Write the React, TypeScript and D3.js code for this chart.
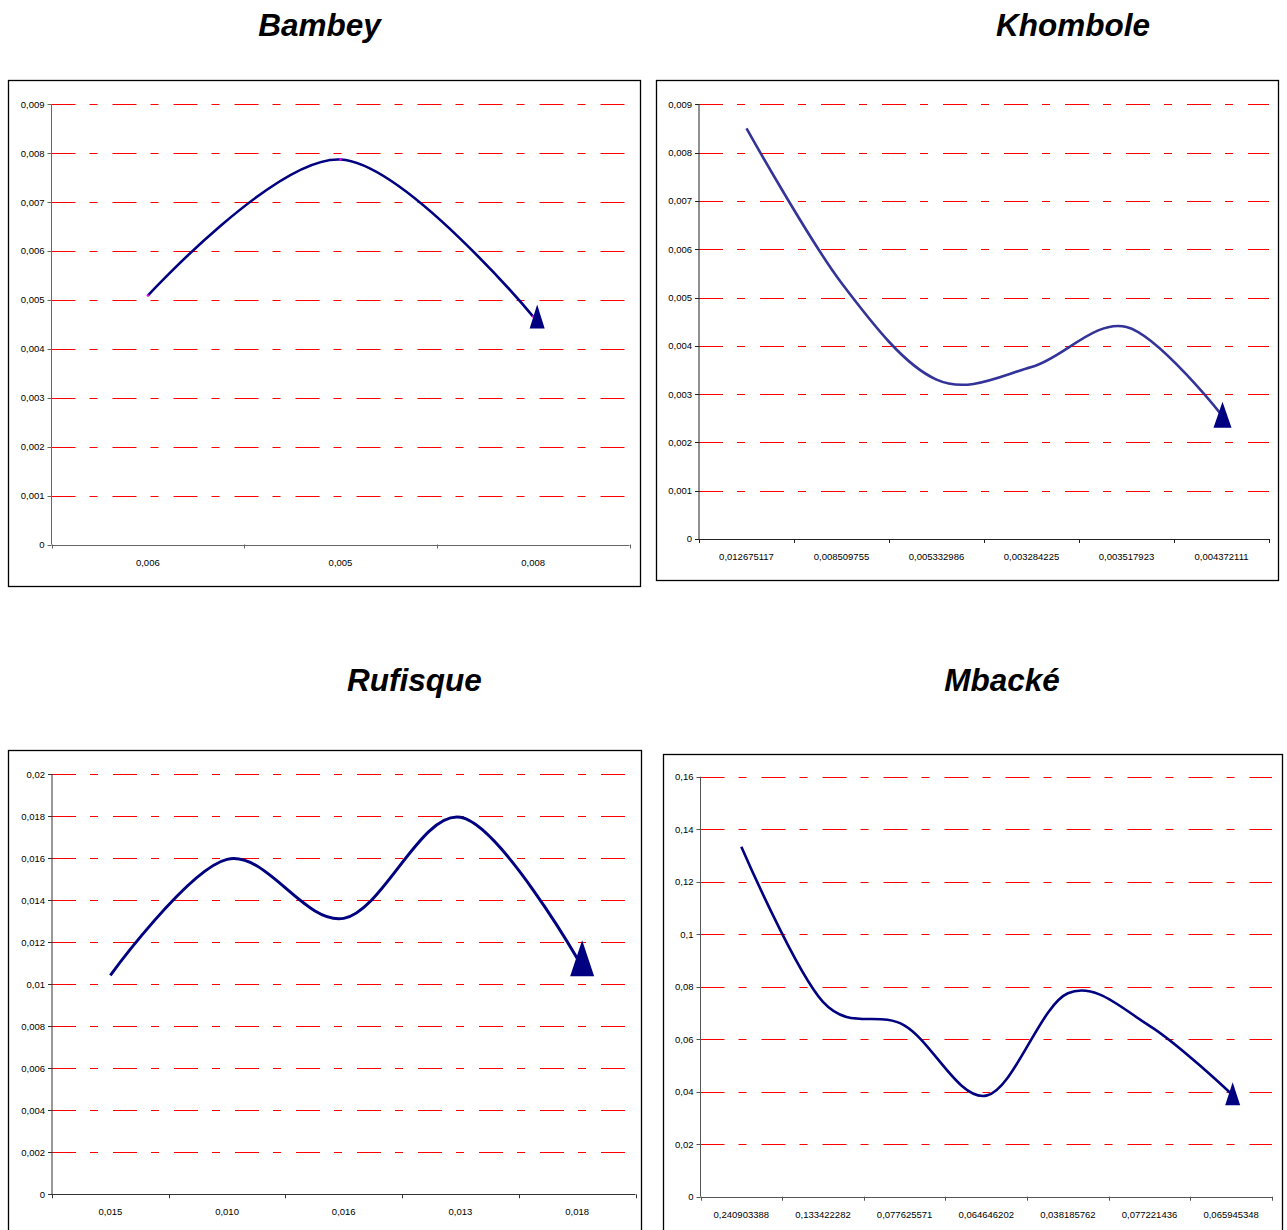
import React from "react";
import * as d3 from "d3";

// ---------- DATA ----------
const bambeyCategories = ["0,006", "0,005", "0,008"];
const bambeyValues = [0.00509, 0.00787, 0.00466];
const bambeyYMax = 0.009;
const bambeyYStep = 0.001;

const khomboleCategories = [
  "0,012675117",
  "0,008509755",
  "0,005332986",
  "0,003284225",
  "0,003517923",
  "0,004372111",
];
const khomboleValues = [0.0085, 0.0053, 0.0033, 0.00356, 0.00439, 0.00257];
const khomboleYMax = 0.009;
const khomboleYStep = 0.001;

const rufisqueCategories = ["0,015", "0,010", "0,016", "0,013", "0,018"];
const rufisqueValues = [0.01043, 0.01595, 0.01314, 0.01795, 0.01124];
const rufisqueYMax = 0.02;
const rufisqueYStep = 0.002;

const mbackeCategories = [
  "0,240903388",
  "0,133422282",
  "0,077625571",
  "0,064646202",
  "0,038185762",
  "0,077221436",
  "0,065945348",
];
const mbackeValues = [0.1333, 0.0742, 0.0652, 0.0385, 0.0775, 0.0651, 0.0392];
const mbackeYMax = 0.16;
const mbackeYStep = 0.02;

// ---------- LAYOUT ----------
type PanelCfg = {
  title: string;
  titleX: number;
  titleY: number;
  box: [number, number, number, number]; // x, y, w, h
  plot: { left: number; right: number; top: number; bottom: number };
  categories: string[];
  values: number[];
  yMax: number;
  yStep: number;
  lineColor: string;
  lineWidth: number;
  marker: { w: number; h: number; dx: number };
  axisColor: string;
  dots?: boolean;
};

const panels: PanelCfg[] = [
  {
    title: "Bambey",
    titleX: 319.5,
    titleY: 36,
    box: [8, 80, 632, 506],
    plot: { left: 51.5, right: 629.5, top: 104.3, bottom: 544.5 },
    categories: bambeyCategories,
    values: bambeyValues,
    yMax: bambeyYMax,
    yStep: bambeyYStep,
    lineColor: "#000080",
    lineWidth: 2.6,
    marker: { w: 15, h: 24, dx: 4 },
    axisColor: "#666",
    dots: true,
  },
  {
    title: "Khombole",
    titleX: 1073,
    titleY: 36,
    box: [656, 80, 622, 500],
    plot: { left: 699, right: 1269, top: 104.3, bottom: 539 },
    categories: khomboleCategories,
    values: khomboleValues,
    yMax: khomboleYMax,
    yStep: khomboleYStep,
    lineColor: "#333399",
    lineWidth: 2.6,
    marker: { w: 18, h: 26, dx: 1 },
    axisColor: "#222",
  },
  {
    title: "Rufisque",
    titleX: 414.5,
    titleY: 691,
    box: [8, 750, 633, 490],
    plot: { left: 52, right: 635.5, top: 774.3, bottom: 1194.3 },
    categories: rufisqueCategories,
    values: rufisqueValues,
    yMax: rufisqueYMax,
    yStep: rufisqueYStep,
    lineColor: "#000080",
    lineWidth: 3,
    marker: { w: 24, h: 36, dx: 5 },
    axisColor: "#333",
  },
  {
    title: "Mbacké",
    titleX: 1002,
    titleY: 691,
    box: [663, 754, 619, 490],
    plot: { left: 700.5, right: 1272, top: 776.7, bottom: 1196.7 },
    categories: mbackeCategories,
    values: mbackeValues,
    yMax: mbackeYMax,
    yStep: mbackeYStep,
    lineColor: "#000080",
    lineWidth: 2.6,
    marker: { w: 15, h: 23, dx: 1.5 },
    axisColor: "#555",
  },
];

const fmt = (v: number) =>
  v === 0 ? "0" : String(+v.toFixed(4)).replace(".", ",");

function Panel({ cfg }: { cfg: PanelCfg }) {
  const { plot } = cfg;
  const x = d3
    .scaleBand<string>()
    .domain(cfg.categories)
    .range([plot.left, plot.right])
    .paddingInner(0)
    .paddingOuter(0);
  const y = d3.scaleLinear().domain([0, cfg.yMax]).range([plot.bottom, plot.top]);
  const nTicks = Math.round(cfg.yMax / cfg.yStep);
  const yTicks = d3.range(0, nTicks + 1).map((i) => i * cfg.yStep);
  const pts: [number, number][] = cfg.values.map((v, i) => [
    (x(cfg.categories[i]) as number) + x.bandwidth() / 2,
    y(v),
  ]);
  const line = d3
    .line<[number, number]>()
    .x((d) => d[0])
    .y((d) => d[1])
    .curve(d3.curveCardinal.tension(0));
  const last = pts[pts.length - 1];
  const { w, h, dx } = cfg.marker;
  const mx = last[0] + dx;
  const apex = last[1] - h * 0.5;
  const base = last[1] + h * 0.5;
  const tri = `M${mx},${apex}L${mx + w / 2},${base}L${mx - w / 2},${base}Z`;
  const xTickPos = [
    ...cfg.categories.map((c) => x(c) as number),
    plot.right,
  ];
  const [bx, by, bw, bh] = cfg.box;
  return (
    <g>
      <text
        x={cfg.titleX}
        y={cfg.titleY}
        textAnchor="middle"
        fontFamily="Liberation Sans, Arial, sans-serif"
        fontWeight="bold"
        fontStyle="italic"
        fontSize={31.5}
        fill="#000"
      >
        {cfg.title}
      </text>
      <rect
        x={bx + 0.5}
        y={by + 0.5}
        width={bw}
        height={bh}
        fill="#fff"
        stroke="#000"
        strokeWidth={1.3}
      />
      {/* grid */}
      {yTicks
        .filter((t) => t > 0)
        .map((t) => (
          <line
            key={"g" + t}
            x1={plot.left}
            x2={plot.right}
            y1={Math.round(y(t)) + 0.5}
            y2={Math.round(y(t)) + 0.5}
            stroke="#ff0000"
            strokeWidth={1}
            strokeDasharray="24,14,8,15"
          />
        ))}
      {/* y axis */}
      <line
        x1={plot.left}
        x2={plot.left}
        y1={plot.top}
        y2={plot.bottom}
        stroke={cfg.axisColor}
        strokeWidth={1}
      />
      {yTicks.map((t) => (
        <g key={"yt" + t}>
          <line
            x1={plot.left - 4}
            x2={plot.left}
            y1={Math.round(y(t)) + 0.5}
            y2={Math.round(y(t)) + 0.5}
            stroke={cfg.axisColor}
          />
          <text
            x={plot.left - 7}
            y={y(t) + 3.4}
            textAnchor="end"
            fontFamily="Liberation Sans, Arial, sans-serif"
            fontSize={9.5}
            fill="#000"
          >
            {fmt(t)}
          </text>
        </g>
      ))}
      {/* x axis */}
      <line
        x1={plot.left}
        x2={plot.right}
        y1={Math.round(plot.bottom) + 0.5}
        y2={Math.round(plot.bottom) + 0.5}
        stroke={cfg.axisColor}
        strokeWidth={1}
      />
      {xTickPos.map((px, i) => (
        <line
          key={"xt" + i}
          x1={Math.round(px) + 0.5}
          x2={Math.round(px) + 0.5}
          y1={plot.bottom}
          y2={plot.bottom + 4}
          stroke={cfg.axisColor}
        />
      ))}
      {cfg.categories.map((c) => (
        <text
          key={"xl" + c}
          x={(x(c) as number) + x.bandwidth() / 2}
          y={plot.bottom + 21}
          textAnchor="middle"
          fontFamily="Liberation Sans, Arial, sans-serif"
          fontSize={9.5}
          fill="#000"
        >
          {c}
        </text>
      ))}
      {/* series */}
      <path
        d={line(pts) || ""}
        fill="none"
        stroke={cfg.lineColor}
        strokeWidth={cfg.lineWidth}
        strokeLinejoin="round"
      />
      {cfg.dots &&
        pts.map((p, i) => (
          <circle key={"d" + i} cx={p[0]} cy={p[1]} r={1.2} fill="#ff00ff" />
        ))}
      <path d={tri} fill="#000080" />
    </g>
  );
}

export default function App() {
  return (
    <svg
      width={1287}
      height={1230}
      style={{ position: "absolute", left: 0, top: 0, display: "block" }}
    >
      <rect x={0} y={0} width={1287} height={1230} fill="#fff" />
      {panels.map((p) => (
        <Panel key={p.title} cfg={p} />
      ))}
    </svg>
  );
}
